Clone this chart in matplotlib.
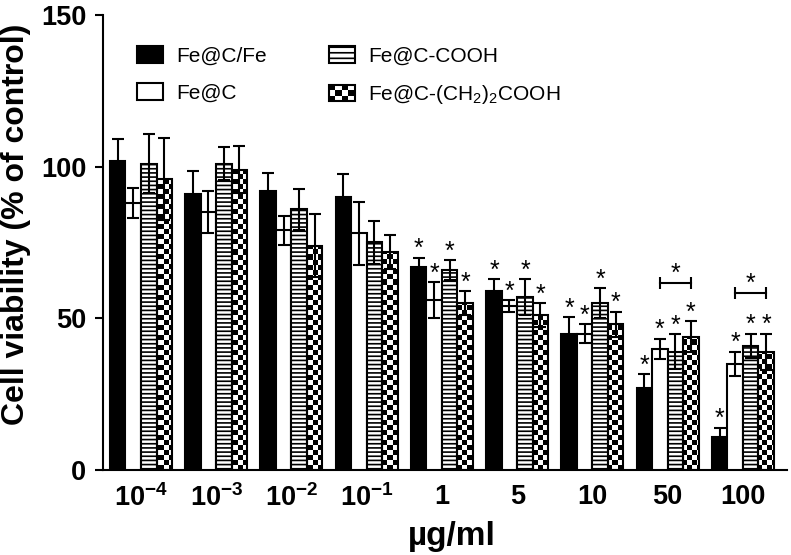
import numpy as np
import matplotlib
matplotlib.use('Agg')
import matplotlib.pyplot as plt
from matplotlib.patches import Rectangle, Patch
from matplotlib.legend_handler import HandlerBase

plt.rcParams['font.family'] = 'Liberation Sans'
plt.rcParams['mathtext.fontset'] = 'custom'
plt.rcParams['mathtext.rm'] = 'Liberation Sans'
plt.rcParams['mathtext.bf'] = 'Liberation Sans:bold'
plt.rcParams['hatch.linewidth'] = 1.2
plt.rcParams['hatch.color'] = 'black'

# datos
conc = [r'$\mathbf{10^{-4}}$', r'$\mathbf{10^{-3}}$', r'$\mathbf{10^{-2}}$', r'$\mathbf{10^{-1}}$',
        '1', '5', '10', '50', '100']
series = ['Fe@C/Fe', 'Fe@C', 'Fe@C-COOH', 'Fe@C-(CH$_2$)$_2$COOH']
fe_c_fe = [102, 91, 92, 90, 67, 59, 45, 27, 11]
fe_c_fe_err = [7, 7.5, 6, 7.5, 3, 4, 5.5, 4.5, 3]
fe_c = [88, 85, 79, 78, 56, 54, 45, 40, 35]
fe_c_err = [5, 7, 4.8, 10.5, 6, 2, 3.2, 3.3, 4]
fe_c_cooh = [101, 101, 86, 75, 66, 57, 55, 39, 41]
fe_c_cooh_err = [9.7, 5.5, 6.8, 7.2, 3.3, 6, 5, 5.7, 4]
fe_c_ch2 = [96, 99, 74, 72, 55, 51, 48, 44, 39]
fe_c_ch2_err = [13.5, 7.8, 10.3, 5.6, 4, 4, 4.2, 5, 6]
signif_groups = [4, 5, 6, 7, 8]      # grupos con asterisco en cada barra
bracket_groups = [7, 8]
bracket_y = [61.8, 58.5]

values = [fe_c_fe, fe_c, fe_c_cooh, fe_c_ch2]
errors = [fe_c_fe_err, fe_c_err, fe_c_cooh_err, fe_c_ch2_err]

fig = plt.figure(figsize=(7.91, 5.55), dpi=100)
ax = fig.add_axes([103/791, 1-470/555, 684/791, 455/555])

x = np.arange(len(conc))
w = 0.206
xlim = (-0.505, 8.585)
ylim = (0, 150)

styles = [dict(facecolor='black'),
          dict(facecolor='white'),
          dict(facecolor='white', hatch='----'),
          dict(facecolor='none')]

bar_sets = []
for k in range(4):
    pos = x + (k - 1.5) * w
    bars = ax.bar(pos, values[k], w, edgecolor='black', linewidth=1.5, zorder=3, **styles[k])
    bar_sets.append(bars)
    ax.errorbar(pos, values[k], yerr=errors[k], fmt='none', ecolor='black',
                elinewidth=1.5, capsize=4, capthick=1.5, zorder=4)

# patron de tablero para la ultima serie
nx, ny = 137, 91
board = (np.add.outer(np.arange(ny), np.arange(nx)) % 2).astype(float)
for p in bar_sets[3]:
    im = ax.imshow(board, extent=(xlim[0], xlim[1], ylim[0], ylim[1]), origin='lower',
                   cmap='gray_r', interpolation='nearest', aspect='auto', zorder=2.5)
    im.set_clip_path(p)

# asteriscos
for g in signif_groups:
    for k in range(4):
        top = values[k][g] + errors[k][g]
        ax.annotate('*', (x[g] + (k - 1.5) * w, top), xytext=(0, 1), textcoords='offset points',
                    ha='center', va='baseline', fontsize=18, zorder=5)

for g, yb in zip(bracket_groups, bracket_y):
    x0 = x[g] - 0.5 * w
    x1 = x[g] + 1.5 * w
    ax.plot([x0, x1], [yb, yb], color='black', lw=1.5, zorder=5)
    ax.plot([x0, x1], [yb, yb], ls='none', marker='|', ms=9, mew=1.5, color='black', zorder=5)
    ax.annotate('*', ((x0 + x1) / 2, yb), xytext=(0, 1), textcoords='offset points',
                ha='center', va='baseline', fontsize=18, zorder=5)

ax.set_xlim(xlim)
ax.set_ylim(ylim)
ax.set_yticks([0, 50, 100, 150])
ax.set_xticks(x)
ax.set_xticklabels(conc)
for lab in ax.get_xticklabels() + ax.get_yticklabels():
    lab.set_fontweight('bold')
    lab.set_fontsize(19.5)
ax.tick_params(axis='y', length=6, width=1.5, pad=6)
ax.tick_params(axis='x', length=0, pad=10)

for s in ['top', 'right']:
    ax.spines[s].set_visible(False)
for s in ['left', 'bottom']:
    ax.spines[s].set_linewidth(1.5)

ax.set_ylabel('Cell viability (% of control)', fontsize=23, fontweight='bold', va='center')
ax.yaxis.set_label_coords(-0.127, 0.54)
ax.set_xlabel('µg/ml', fontsize=24, fontweight='bold', va='center')
ax.xaxis.set_label_coords(0.51, -0.147)


class CheckerHandler(HandlerBase):
    def create_artists(self, legend, orig_handle, xdescent, ydescent, width, height, fontsize, trans):
        arts = []
        cx, cy = 4, 3
        cw, ch = width / cx, height / cy
        for i in range(cx):
            for j in range(cy):
                if (i + j) % 2 == 0:
                    arts.append(Rectangle((-xdescent + i * cw, -ydescent + j * ch), cw, ch,
                                          facecolor='black', edgecolor='none', transform=trans))
        arts.append(Rectangle((-xdescent, -ydescent), width, height, facecolor='none',
                              edgecolor='black', lw=1.5, transform=trans))
        return arts


handles = [Patch(facecolor='black', edgecolor='black', lw=1.5),
           Patch(facecolor='white', edgecolor='black', lw=1.5),
           Patch(facecolor='white', edgecolor='black', lw=1.5, hatch='---'),
           Patch(facecolor='white', edgecolor='black')]
leg = ax.legend(handles, series, ncol=2, loc='upper left', bbox_to_anchor=(137/791, 1-46/555),
                bbox_transform=fig.transFigure, frameon=False, fontsize=15, borderpad=0,
                borderaxespad=0, handlelength=1.25, handleheight=0.85, handletextpad=0.65,
                columnspacing=2.95, labelspacing=0.85, handler_map={handles[3]: CheckerHandler()})

fig.savefig('out.png', dpi=100)
